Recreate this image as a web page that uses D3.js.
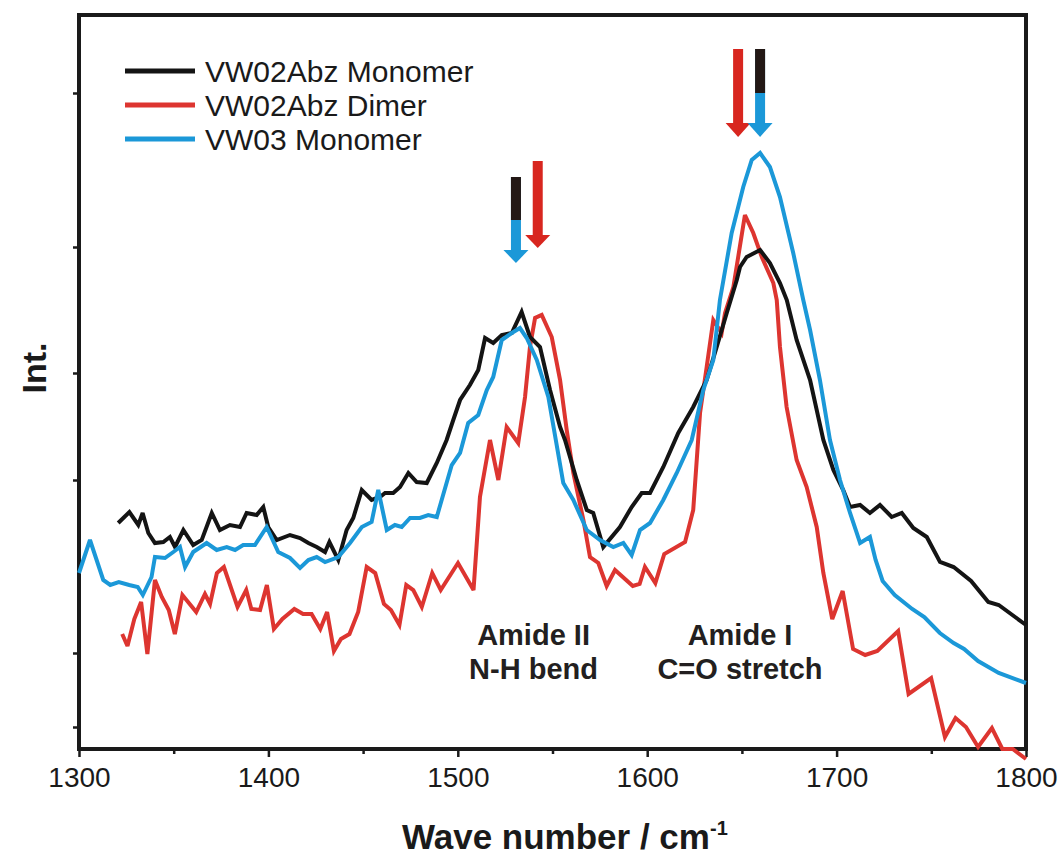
<!DOCTYPE html>
<html>
<head>
<meta charset="utf-8">
<script src="https://cdn.jsdelivr.net/npm/d3@7"></script>
<style>
  body { margin: 0; background: #fff; }
  svg { display: block; font-family: 'Liberation Sans', Arial, sans-serif; }
</style>
</head>
<body>
<div id="chart"></div>
<script>
// spectra: [wave number (cm-1), intensity (a.u.)]
const vw02Monomer = [
  [1320.7, 226], [1326.6, 237], [1331.3, 224], [1333.6, 236], [1336.6, 216], [1340.1, 206],
  [1344.5, 207], [1348, 212], [1350.7, 202], [1355.1, 219], [1360.3, 204], [1364.8, 209],
  [1370.1, 236], [1374.4, 219], [1379.7, 224], [1385, 222], [1388.5, 236], [1393.8, 234],
  [1397.3, 242], [1399.9, 222], [1404.4, 209], [1411.4, 214], [1416.7, 211], [1421.1, 206],
  [1425.5, 202], [1429.9, 197], [1432.2, 207], [1436.9, 189], [1441.3, 219], [1444.8, 231],
  [1449.3, 259], [1454.5, 249], [1458.9, 252], [1461.6, 256], [1465.9, 256], [1469.5, 262],
  [1473.9, 276], [1478.3, 267], [1483.6, 266], [1488.9, 286], [1494.1, 309], [1497.6, 329],
  [1501.2, 349], [1506.4, 364], [1510.8, 379], [1514.4, 411], [1518.7, 406], [1523.2, 414],
  [1528.5, 416], [1533.7, 437], [1538.1, 412], [1543.4, 402], [1548.7, 359], [1554, 322],
  [1556.6, 309], [1562.8, 269], [1568.1, 239], [1571.5, 236], [1576.8, 202], [1585.6, 222],
  [1591.8, 242], [1597.1, 256], [1601.5, 256], [1608.5, 282], [1616.4, 316], [1624.3, 342],
  [1631.4, 369], [1636.7, 402], [1642, 436], [1647.3, 469], [1649, 482], [1652.5, 492],
  [1659.6, 499], [1664.8, 486], [1670.1, 466], [1673.7, 449], [1678.9, 409], [1686, 369],
  [1693, 309], [1698.3, 279], [1703.5, 259], [1707.1, 242], [1712.4, 244], [1717.6, 236],
  [1722.9, 244], [1729.1, 232], [1734.4, 236], [1740.5, 221], [1747.6, 212], [1754.6, 187],
  [1761.8, 182], [1771, 168], [1780.1, 147], [1785.6, 144], [1800, 124]
];

const vw02Dimer = [
  [1322.8, 115], [1325.6, 103], [1329.2, 130], [1332.8, 147], [1336.1, 95], [1340.1, 169],
  [1343.7, 152], [1347.4, 139], [1350.6, 115], [1354.6, 154], [1361.9, 137], [1366.5, 155],
  [1369.2, 145], [1372.8, 176], [1376.5, 182], [1383.7, 142], [1388.3, 159], [1391, 140],
  [1395.6, 139], [1399.2, 164], [1402.9, 120], [1407.4, 130], [1413.7, 140], [1418.3, 135],
  [1422.8, 135], [1427.4, 120], [1431, 137], [1434.6, 98], [1438.3, 110], [1442.8, 115],
  [1447.4, 137], [1451.9, 182], [1456.4, 176], [1461, 145], [1464.7, 139], [1469.2, 124],
  [1472.8, 164], [1476.5, 159], [1481, 142], [1486.5, 176], [1491, 159], [1500.1, 186],
  [1508.3, 159], [1511.7, 252], [1517, 309], [1521.4, 269], [1525.8, 322], [1531.9, 306],
  [1535.5, 352], [1538.1, 402], [1540.8, 431], [1544.3, 434], [1549.6, 412], [1554, 369],
  [1557.5, 319], [1561, 276], [1566.3, 229], [1569.8, 192], [1574.2, 186], [1578.6, 163],
  [1583, 179], [1592.4, 163], [1596, 165], [1598.8, 182], [1604.3, 166], [1609, 195],
  [1620, 207], [1624.3, 239], [1627.9, 336], [1631.4, 382], [1634.9, 429], [1639.3, 416],
  [1641.1, 436], [1645.5, 462], [1651.6, 534], [1656, 516], [1660.5, 492], [1666.6, 466],
  [1668.4, 449], [1670.1, 402], [1673.6, 342], [1678.9, 289], [1684.2, 262], [1689.5, 222],
  [1693, 176], [1697.7, 130], [1703.2, 158], [1708.7, 100], [1715.1, 94], [1721.5, 98],
  [1732.5, 118], [1738, 55], [1749.9, 71], [1757.2, 12], [1762.8, 31], [1768.3, 22],
  [1774.7, 2], [1782, 21], [1787.5, 0], [1793, 0], [1800, -10]
];

const vw03Monomer = [
  [1300, 176], [1305.8, 209], [1312.8, 169], [1316.5, 164], [1321, 167], [1326.5, 164],
  [1331, 162], [1333.7, 154], [1338.3, 172], [1340.1, 192], [1345.4, 191], [1349.8, 197],
  [1353.3, 202], [1356, 182], [1360.3, 197], [1367.4, 206], [1372.7, 199], [1378, 202],
  [1382.4, 199], [1386.7, 204], [1392.9, 204], [1399.1, 222], [1405.2, 197], [1411.4, 191],
  [1416.7, 181], [1421.1, 189], [1425.5, 192], [1429.9, 187], [1436.9, 192], [1443.1, 206],
  [1449.3, 222], [1454.5, 227], [1458, 259], [1462.5, 219], [1466.8, 224], [1470.4, 222],
  [1474.8, 231], [1480, 231], [1484.4, 234], [1488.9, 232], [1496.8, 284], [1501.2, 296],
  [1505.5, 326], [1510.8, 334], [1515.3, 359], [1518.7, 372], [1523.2, 409], [1528.5, 416],
  [1532.8, 421], [1536.4, 411], [1541.7, 389], [1547.8, 352], [1555.7, 266], [1561, 249],
  [1568.1, 219], [1575.1, 209], [1582.1, 202], [1587.4, 206], [1591.8, 194], [1596.2, 219],
  [1601.5, 226], [1608.5, 249], [1615.6, 276], [1623.5, 309], [1629.6, 359], [1634.9, 389],
  [1638.4, 449], [1644.6, 516], [1650.7, 562], [1655.2, 589], [1659.6, 596], [1664.8, 582],
  [1670.1, 552], [1677.1, 496], [1682.4, 449], [1686, 419], [1691.2, 369], [1696.5, 309],
  [1701.8, 269], [1707.1, 236], [1712.4, 206], [1717.6, 212], [1720.6, 189], [1724.3, 168],
  [1730.7, 154], [1739.9, 140], [1746.3, 132], [1754.5, 116], [1761.8, 106], [1767.3, 100],
  [1774.7, 88], [1785.6, 76], [1800, 66]
];

const seriesNames = ['VW02Abz Monomer', 'VW02Abz Dimer', 'VW03 Monomer'];
const xTicks = [1300, 1400, 1500, 1600, 1700, 1800];
const xMinorTicks = [1350, 1450, 1550, 1650, 1750];
const yTicks = [22, 96, 269, 376, 502, 656];

// peak marker arrows: wave number, top, colour split, head base, tip (intensity units)
const peakArrows = [
  { wave: 1530.7, top: 572, split: 529, head: 499, tip: 486, upper: 'monomer', lower: 'vw03' },
  { wave: 1542.2, top: 588, split: null, head: 514, tip: 501, upper: 'dimer', lower: 'dimer' },
  { wave: 1648, top: 700, split: null, head: 626, tip: 612, upper: 'dimer', lower: 'dimer' },
  { wave: 1659.6, top: 700, split: 656, head: 626, tip: 612, upper: 'monomer', lower: 'vw03' },
];

const bandLabels = [
  { wave: 1540, lines: ['Amide II', 'N-H bend'] },
  { wave: 1649, lines: ['Amide I', 'C=O stretch'] },
];

const width = 1062;
const height = 856;
const margin = { top: 15, right: 36, bottom: 107, left: 79 };

const lineColor = { monomer: '#141414', dimer: '#dd3530', vw03: '#1b98d8' };
const arrowColor = { monomer: '#231815', dimer: '#d8261f', vw03: '#1b98d8' };

const svg = d3.select('#chart')
  .append('svg')
  .attr('width', width)
  .attr('height', height);

const x = d3.scaleLinear()
  .domain([1300, 1800])
  .range([margin.left, width - margin.right]);

const y = d3.scaleLinear()
  .domain([0, 734])
  .range([height - margin.bottom, margin.top]);

// axes
const xAxis = svg.append('g')
  .attr('transform', `translate(0, ${height - margin.bottom})`)
  .call(d3.axisBottom(x).tickValues(xTicks).tickSize(8).tickPadding(10).tickFormat(d3.format('d')));
xAxis.select('.domain').remove();
xAxis.selectAll('line').attr('stroke', '#1a1a1a').attr('stroke-width', 2.5);
xAxis.selectAll('text')
  .attr('font-size', '28px')
  .attr('fill', '#1a1a1a')
  .attr('font-family', "'Liberation Sans', Arial, sans-serif");

const xMinor = svg.append('g')
  .attr('transform', `translate(0, ${height - margin.bottom})`)
  .call(d3.axisBottom(x).tickValues(xMinorTicks).tickSize(5).tickFormat(''));
xMinor.select('.domain').remove();
xMinor.selectAll('line').attr('stroke', '#1a1a1a').attr('stroke-width', 2.5);

const yAxis = svg.append('g')
  .attr('transform', `translate(${margin.left}, 0)`)
  .call(d3.axisLeft(y).tickValues(yTicks).tickSize(6).tickFormat(''));
yAxis.select('.domain').remove();
yAxis.selectAll('line').attr('stroke', '#1a1a1a').attr('stroke-width', 2.5);

svg.append('rect')
  .attr('x', margin.left)
  .attr('y', margin.top)
  .attr('width', width - margin.left - margin.right)
  .attr('height', height - margin.top - margin.bottom)
  .attr('fill', 'none')
  .attr('stroke', '#1a1a1a')
  .attr('stroke-width', 4);

// spectra
const line = d3.line()
  .x((d) => x(d[0]))
  .y((d) => y(d[1]));

const series = [
  { key: 'dimer', data: vw02Dimer },
  { key: 'monomer', data: vw02Monomer },
  { key: 'vw03', data: vw03Monomer },
];

svg.selectAll('path.spectrum')
  .data(series)
  .join('path')
  .attr('class', 'spectrum')
  .attr('d', (d) => line(d.data))
  .attr('fill', 'none')
  .attr('stroke', (d) => lineColor[d.key])
  .attr('stroke-width', 4)
  .attr('stroke-linejoin', 'miter')
  .attr('stroke-miterlimit', 3);

// arrows
const shaftW = 10;
const headW = 25;
const arrows = svg.selectAll('g.arrow')
  .data(peakArrows)
  .join('g')
  .attr('class', 'arrow');

arrows.append('rect')
  .attr('x', (d) => x(d.wave) - shaftW / 2)
  .attr('y', (d) => y(d.top))
  .attr('width', shaftW)
  .attr('height', (d) => y(d.head) - y(d.top) + 1)
  .attr('fill', (d) => arrowColor[d.lower]);

arrows.filter((d) => d.split !== null)
  .append('rect')
  .attr('x', (d) => x(d.wave) - shaftW / 2)
  .attr('y', (d) => y(d.top))
  .attr('width', shaftW)
  .attr('height', (d) => y(d.split) - y(d.top))
  .attr('fill', (d) => arrowColor[d.upper]);

arrows.append('path')
  .attr('d', (d) => {
    const cx = x(d.wave);
    return `M${cx - headW / 2},${y(d.head)}L${cx + headW / 2},${y(d.head)}L${cx},${y(d.tip)}Z`;
  })
  .attr('fill', (d) => arrowColor[d.lower]);

// band labels
svg.selectAll('text.band')
  .data(bandLabels)
  .join('text')
  .attr('class', 'band')
  .attr('x', (d) => x(d.wave))
  .attr('y', 645)
  .attr('text-anchor', 'middle')
  .attr('font-size', '29px')
  .attr('font-weight', 'bold')
  .attr('fill', '#231f20')
  .selectAll('tspan')
  .data((d) => d.lines)
  .join('tspan')
  .attr('x', function () { return this.parentNode.getAttribute('x'); })
  .attr('dy', (d, i) => (i === 0 ? 0 : 34))
  .text((d) => d);

// legend
const legendKeys = ['monomer', 'dimer', 'vw03'];
const legend = svg.append('g')
  .selectAll('g')
  .data(seriesNames)
  .join('g')
  .attr('transform', (d, i) => `translate(125, ${71 + i * 34})`);

legend.append('line')
  .attr('x1', 0)
  .attr('x2', 70)
  .attr('stroke', (d, i) => lineColor[legendKeys[i]])
  .attr('stroke-width', 5);

legend.append('text')
  .attr('x', 80)
  .attr('dy', '0.35em')
  .attr('font-size', '30px')
  .attr('fill', '#1a1a1a')
  .text((d) => d);

// axis titles
const xTitle = svg.append('text')
  .attr('x', 402)
  .attr('y', 849)
  .attr('font-size', '35px')
  .attr('font-weight', 'bold')
  .attr('fill', '#1a1a1a');
xTitle.append('tspan').text('Wave number / cm');
xTitle.append('tspan')
  .attr('dy', -14)
  .attr('font-size', '20px')
  .text('-1');

svg.append('text')
  .attr('transform', 'translate(46, 368) rotate(-90)')
  .attr('text-anchor', 'middle')
  .attr('font-size', '34px')
  .attr('font-weight', 'bold')
  .attr('fill', '#1a1a1a')
  .text('Int.');
</script>
</body>
</html>
